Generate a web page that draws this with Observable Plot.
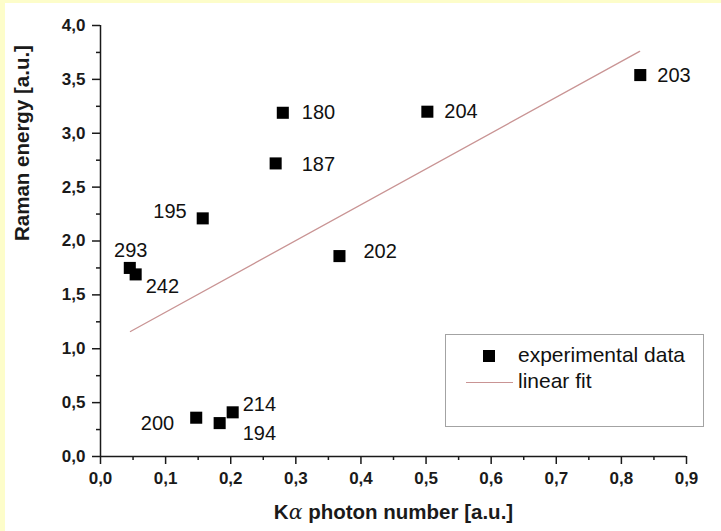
<!DOCTYPE html>
<html>
<head>
<meta charset="utf-8">
<script src="https://cdn.jsdelivr.net/npm/d3@7"></script>
<script src="https://cdn.jsdelivr.net/npm/@observablehq/plot@0.6"></script>
<style>
  body { margin: 0; background: #fdfdca; }
  #wrap { position: relative; width: 721px; height: 531px; overflow: hidden; }
  #panel { position: absolute; left: 5px; top: 3px; right: 0; bottom: 0; background: #fff; }
  #chart { position: absolute; left: 0; top: 0; }
  .legend {
    position: absolute; left: 445px; top: 334px; width: 257px; height: 91px;
    border: 1.5px solid #a3a3a3; background: #fff;
    font-family: "Liberation Sans", Arial, sans-serif; font-size: 21px; color: #111;
  }
  .legend .sq { position: absolute; left: 37px; top: 15px; width: 12px; height: 12px; background: #000; }
  .legend .ln { position: absolute; left: 20px; top: 47px; width: 47px; height: 0; border-top: 1.4px solid #c99494; }
  .legend .t1 { position: absolute; left: 72px; top: 8px; line-height: 24px; }
  .legend .t2 { position: absolute; left: 72px; top: 34px; line-height: 24px; }
</style>
</head>
<body>
<div id="wrap">
  <div id="panel"></div>
  <div id="chart"></div>
  <div class="legend">
    <div class="sq"></div><div class="t1">experimental data</div>
    <div class="ln"></div><div class="t2">linear fit</div>
  </div>
</div>
<script>
// Samples: Kα photon number vs. Raman energy (arbitrary units)
const sampleIds   = ["293", "242", "195", "187", "180", "204", "203", "202", "200", "194", "214"];
const kAlpha      = [0.045, 0.054, 0.157, 0.269, 0.280, 0.502, 0.829, 0.367, 0.147, 0.183, 0.203];
const ramanEnergy = [1.75, 1.69, 2.21, 2.72, 3.19, 3.20, 3.54, 1.86, 0.36, 0.31, 0.41];

// Linear fit, drawn between its two end points
const fitK     = [0.046, 0.828];
const fitRaman = [1.16, 3.76];

// Axis ticks
const xTicks      = [0, 0.1, 0.2, 0.3, 0.4, 0.5, 0.6, 0.7, 0.8, 0.9];
const xMinorTicks = [0.05, 0.15, 0.25, 0.35, 0.45, 0.55, 0.65, 0.75, 0.85];
const yTicks      = [0, 0.5, 1, 1.5, 2, 2.5, 3, 3.5, 4];
const yMinorTicks = [0.25, 0.75, 1.25, 1.75, 2.25, 2.75, 3.25, 3.75];

// Where each sample's label sits relative to its square: [dx, dy, anchor]
const labelPlacement = {
  "293": [1, -17, "middle"],
  "242": [10, 12, "start"],
  "195": [-16, -7, "end"],
  "187": [26, 1, "start"],
  "180": [19, 0, "start"],
  "204": [17, 0, "start"],
  "203": [17, 1, "start"],
  "202": [24, -4, "start"],
  "200": [-22, 6, "end"],
  "194": [23, 10, "start"],
  "214": [10, -8, "start"]
};

const points = sampleIds.map((id, i) => ({id, k: kAlpha[i], e: ramanEnergy[i]}));
const fit = fitK.map((k, i) => ({k, e: fitRaman[i]}));
const commaFormat = d => d.toFixed(1).replace(".", ",");
const noLabel = () => "";
const ink = "#1a1a1a";

const labelMarks = points.map(p => {
  const [dx, dy, anchor] = labelPlacement[p.id];
  return Plot.text([p], {x: "k", y: "e", text: "id", dx, dy, textAnchor: anchor, fontSize: 20, fill: "#111"});
});

const chart = Plot.plot({
  width: 721,
  height: 531,
  marginLeft: 100,
  marginRight: 35,
  marginTop: 25,
  marginBottom: 75,
  style: {background: "transparent", fontFamily: "'Liberation Sans', Arial, sans-serif", color: ink, overflow: "visible"},
  x: {domain: [0, 0.9]},
  y: {domain: [0, 4]},
  marks: [
    Plot.axisX(xTicks, {tickSize: 8, tickPadding: 7, tickFormat: commaFormat, fontSize: 17, fontWeight: "bold", strokeWidth: 1.5, label: null}),
    Plot.axisX(xMinorTicks, {tickSize: 4, tickFormat: noLabel, strokeWidth: 1.5, label: null}),
    Plot.axisY(yTicks, {tickSize: 8, tickPadding: 7, tickFormat: commaFormat, fontSize: 17, fontWeight: "bold", strokeWidth: 1.5, label: null}),
    Plot.axisY(yMinorTicks, {tickSize: 4, tickFormat: noLabel, strokeWidth: 1.5, label: null}),
    Plot.ruleX([0], {stroke: ink, strokeWidth: 1.5}),
    Plot.ruleY([0], {stroke: ink, strokeWidth: 1.5}),
    Plot.line(fit, {x: "k", y: "e", stroke: "#c99494", strokeWidth: 1.3}),
    Plot.dot(points, {x: "k", y: "e", symbol: "square", r: 6.8, fill: "#000", stroke: null}),
    ...labelMarks,
    Plot.text(["Raman energy [a.u.]"], {text: d => d, frameAnchor: "left", dx: -78, rotate: -90, fontSize: 20.5, fontWeight: "bold", fill: ink}),
    Plot.text(["Kα photon number [a.u.]"], {text: d => d, frameAnchor: "bottom", dy: 62, fontSize: 20.5, fontWeight: "bold", fill: ink, className: "xtitle"})
  ]
});

// Set the Greek alpha of the x title in an upright-weight serif italic
const xt = d3.select(chart).select(".xtitle text");
xt.text(null);
xt.append("tspan").text("K");
xt.append("tspan").attr("font-family", "'DejaVu Serif', serif").attr("font-style", "italic").attr("font-weight", "normal").text("α");
xt.append("tspan").text(" photon number [a.u.]");

document.getElementById("chart").append(chart);
</script>
</body>
</html>
